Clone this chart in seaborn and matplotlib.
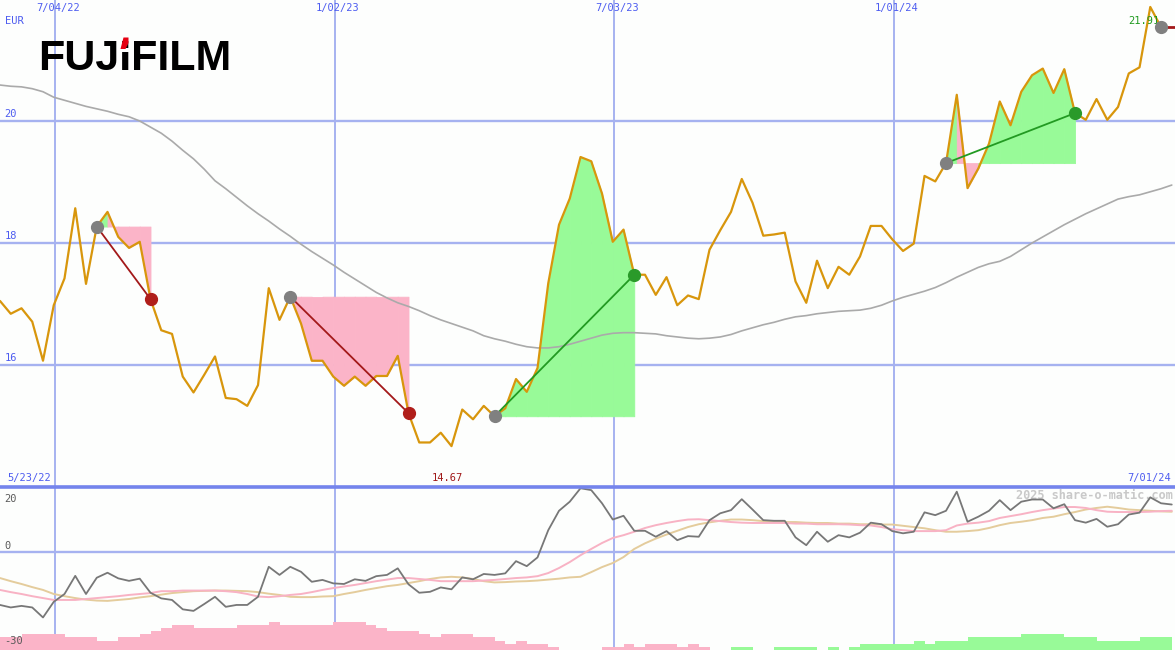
import numpy as np
import pandas as pd
import matplotlib
matplotlib.use("Agg")
import matplotlib.pyplot as plt
import matplotlib.dates as mdates
from matplotlib.patches import Polygon
import seaborn as sns

# ---------------- data ----------------
start_date = "2022-05-29"

price = [17.05, 16.84, 16.93, 16.71, 16.07, 16.98, 17.42, 18.57, 17.33, 18.27,
         18.51, 18.10, 17.92, 18.02, 17.08, 16.57, 16.51, 15.81, 15.55, 15.84,
         16.14, 15.46, 15.44, 15.33, 15.67, 17.26, 16.74, 17.12, 16.68, 16.07,
         16.07, 15.81, 15.66, 15.81, 15.66, 15.82, 15.82, 16.15, 15.21, 14.73,
         14.73, 14.89, 14.67, 15.27, 15.11, 15.33, 15.16, 15.29, 15.77, 15.56,
         15.95, 17.34, 18.30, 18.73, 19.41, 19.34, 18.81, 18.02, 18.22, 17.48,
         17.48, 17.15, 17.44, 16.98, 17.14, 17.08, 17.89, 18.21, 18.51, 19.05,
         18.66, 18.12, 18.14, 18.17, 17.37, 17.02, 17.71, 17.26, 17.61, 17.48,
         17.78, 18.28, 18.28, 18.06, 17.87, 17.99, 19.10, 19.01, 19.31, 20.43,
         18.90, 19.22, 19.63, 20.32, 19.93, 20.48, 20.75, 20.86, 20.46, 20.85,
         20.13, 20.02, 20.36, 20.02, 20.23, 20.78, 20.88, 21.87, 21.54]

moving_avg = [20.59, 20.57, 20.56, 20.53, 20.48, 20.39, 20.34, 20.29, 20.24, 20.20,
              20.16, 20.11, 20.07, 20.00, 19.90, 19.80, 19.67, 19.52, 19.38, 19.21,
              19.02, 18.89, 18.75, 18.61, 18.48, 18.36, 18.23, 18.11, 17.98, 17.86,
              17.75, 17.64, 17.52, 17.41, 17.30, 17.19, 17.10, 17.02, 16.96, 16.89,
              16.81, 16.74, 16.68, 16.62, 16.56, 16.48, 16.43, 16.39, 16.34, 16.30,
              16.28, 16.28, 16.30, 16.34, 16.39, 16.44, 16.49, 16.52, 16.53, 16.53,
              16.52, 16.51, 16.48, 16.46, 16.44, 16.43, 16.44, 16.46, 16.50, 16.56,
              16.61, 16.66, 16.70, 16.75, 16.79, 16.81, 16.84, 16.86, 16.88, 16.89,
              16.90, 16.93, 16.98, 17.05, 17.11, 17.16, 17.21, 17.27, 17.35, 17.44,
              17.52, 17.60, 17.66, 17.70, 17.78, 17.89, 18.00, 18.10, 18.20, 18.30,
              18.39, 18.48, 18.56, 18.64, 18.72, 18.76, 18.79, 18.84, 18.89, 18.95]

oscillator = [-16.9, -17.7, -17.2, -17.7, -20.9, -15.9, -13.4, -7.6, -13.4, -8.2,
              -6.6, -8.4, -9.2, -8.5, -13.0, -14.8, -15.3, -18.3, -18.8, -16.6,
              -14.3, -17.5, -16.9, -16.9, -14.3, -4.7, -7.3, -4.7, -6.3, -9.5,
              -8.9, -10.0, -10.2, -8.7, -9.2, -7.7, -7.3, -5.2, -10.3, -13.0,
              -12.7, -11.3, -11.9, -8.1, -8.7, -7.0, -7.3, -6.8, -2.9, -4.5,
              -1.7, 7.0, 13.2, 16.1, 20.4, 19.8, 15.6, 10.4, 11.6, 6.8,
              6.8, 4.9, 6.7, 3.8, 5.1, 4.9, 10.2, 12.4, 13.4, 16.9,
              13.6, 10.2, 10.0, 10.0, 4.7, 2.2, 6.5, 3.3, 5.4, 4.7,
              6.2, 9.4, 8.9, 6.7, 6.0, 6.5, 12.7, 11.8, 13.2, 19.3,
              9.7, 11.3, 13.2, 16.6, 13.4, 16.1, 16.8, 16.8, 14.0, 15.3,
              10.2, 9.4, 10.6, 8.1, 8.9, 12.0, 12.6, 17.5, 15.6, 15.2]

osc_fast = [-12.1, -12.8, -13.4, -14.1, -14.7, -15.3, -15.3, -15.3, -15.0, -14.7,
            -14.4, -14.1, -13.7, -13.4, -13.1, -12.5, -12.5, -12.3, -12.3, -12.3,
            -12.3, -12.5, -12.8, -13.4, -14.2, -14.4, -14.1, -13.7, -13.4, -12.8,
            -12.1, -11.5, -11.0, -10.5, -9.9, -9.3, -8.8, -8.3, -8.3, -8.6,
            -8.9, -9.3, -9.3, -9.3, -9.3, -9.1, -8.9, -8.6, -8.3, -8.1,
            -7.7, -6.7, -5.1, -3.2, -1.0, 1.0, 2.9, 4.5, 5.4, 6.5,
            7.7, 8.6, 9.3, 9.9, 10.4, 10.5, 10.2, 9.9, 9.6, 9.4,
            9.3, 9.3, 9.3, 9.3, 9.1, 9.1, 8.9, 8.9, 8.9, 8.8,
            8.6, 8.5, 8.0, 7.3, 7.0, 6.7, 6.7, 6.7, 7.0, 8.5,
            9.1, 9.4, 9.9, 10.9, 11.5, 12.1, 12.8, 13.4, 13.9, 14.4,
            14.4, 14.1, 13.4, 12.9, 12.8, 12.8, 12.8, 12.9, 13.1, 13.2]

osc_slow = [-8.3, -9.3, -10.2, -11.2, -12.1, -13.4, -14.1, -14.7, -15.2, -15.5,
            -15.6, -15.3, -15.0, -14.5, -14.1, -13.6, -13.1, -12.8, -12.5, -12.4,
            -12.3, -12.3, -12.4, -12.5, -12.8, -13.3, -13.7, -14.3, -14.4, -14.4,
            -14.2, -14.1, -13.4, -12.8, -12.1, -11.5, -10.9, -10.5, -9.9, -9.3,
            -8.6, -8.1, -7.9, -8.1, -8.6, -9.3, -9.7, -9.6, -9.4, -9.3,
            -9.1, -8.8, -8.5, -8.1, -7.9, -6.4, -4.8, -3.5, -1.6, 1.0,
            2.8, 4.3, 5.6, 6.8, 8.0, 8.9, 9.5, 10.0, 10.4, 10.4,
            10.2, 9.9, 9.7, 9.6, 9.6, 9.4, 9.3, 9.3, 9.1, 9.1,
            8.9, 8.9, 8.8, 8.8, 8.4, 8.0, 7.6, 7.0, 6.5, 6.5,
            6.7, 7.0, 7.7, 8.6, 9.3, 9.7, 10.2, 10.9, 11.3, 12.1,
            12.8, 13.6, 14.1, 14.5, 14.1, 13.6, 13.4, 13.2, 13.0, 12.9]

# signed signal strength (negative = pink, positive = green)
signal_bars = [-4, -4, -5, -5, -5, -5, -4, -4, -4, -3,
               -3, -4, -4, -5, -6, -7, -8, -8, -7, -7,
               -7, -7, -8, -8, -8, -9, -8, -8, -8, -8,
               -8, -9, -9, -9, -8, -7, -6, -6, -6, -5,
               -4, -5, -5, -5, -4, -4, -3, -2, -3, -2,
               -2, -1, 0, 0, 0, 0, -1, -1, -2, -1,
               -2, -2, -2, -1, -2, -1, 0, 0, 1, 1,
               0, 0, 1, 1, 1, 1, 0, 1, 0, 1,
               2, 2, 2, 2, 2, 3, 2, 3, 3, 3,
               4, 4, 4, 4, 4, 5, 5, 5, 5, 4,
               4, 4, 3, 3, 3, 3, 4, 4, 4]

# trades: (entry week index, exit week index)
trades = [(9, 14), (27, 38), (46, 59), (88, 100)]

grid_dates = ["2022-07-04", "2023-01-02", "2023-07-03", "2024-01-01"]
grid_labels = ["7/04/22", "1/02/23", "7/03/23", "1/01/24"]
price_ticks = [16, 18, 20]
price_tick_labels = ["16", "18", "20"]
osc_ticks = [20, 0, -30]
osc_tick_labels = ["20", "0", "-30"]
min_label = "14.67"
last_label = "21.91"
left_date_label = "5/23/22"
right_date_label = "7/01/24"
currency = "EUR"
watermark = "2025 share-o-matic.com"

# ---------------- styling ----------------
BG = "#fdfefd"
GRID = "#a6b2f0"
BLUE_TXT = "#4d5cf0"
ORANGE = "#d8960c"
PINK = "#fbb4c8"
GREEN = "#98fa98"
LOSS = "#a3191a"
GAIN = "#229a22"

sns.set_style("white")
plt.rcParams["font.family"] = ["DejaVu Sans Mono", "DejaVu Sans"]

n_long = len(moving_avg)
dates_long = pd.date_range(start_date, periods=n_long, freq="7D")
x_long = mdates.date2num(dates_long.to_pydatetime())
n = len(price)
x = x_long[:n]
x_left = x[0]
x_right = x[0] + 109.3 * 7
grid_x = mdates.date2num(pd.to_datetime(grid_dates).to_pydatetime())

fig = plt.figure(figsize=(11.75, 6.5), dpi=100, facecolor=BG)
split = (650 - 487) / 650
ax = fig.add_axes([0, split, 1, 1 - split])
ax2 = fig.add_axes([0, 0, 1, split])
for a in (ax, ax2):
    a.set_facecolor(BG)
    for s in a.spines.values():
        s.set_visible(False)
    a.set_xticks([])
    a.set_yticks([])
    a.set_xlim(x_left, x_right)

ax.set_ylim(14.0, 21.984)
ax2.set_ylim(-31.3, 20.8)

# grid
for gx in grid_x:
    ax.axvline(gx, color=GRID, lw=1.4, zorder=0)
    ax2.axvline(gx, color=GRID, lw=1.4, zorder=0)
for t in price_ticks:
    ax.axhline(t, color=GRID, lw=1.7, zorder=0)
ax2.axhline(0, color=GRID, lw=1.7, zorder=0)
ax2.axhline(20.8, color="#7484ec", lw=2.6, zorder=6, clip_on=False)

# trade fills (segment colour from its end value)
p = np.array(price)
for a_i, b_i in trades:
    entry = p[a_i]
    for j in range(a_i, b_i):
        col = GREEN if p[j + 1] >= entry else PINK
        ax.fill_between(x[j:j + 2], entry, p[j:j + 2], facecolor=col, edgecolor=col,
                        lw=0.6, zorder=1)

# moving average and price
sns.lineplot(x=x_long, y=moving_avg, ax=ax, color="#aaaaaa", lw=1.2, zorder=2)
sns.lineplot(x=x, y=price, ax=ax, color=ORANGE, lw=1.6, zorder=3)

# trade lines and markers
for a_i, b_i in trades:
    gain = p[b_i] > p[a_i]
    col = GAIN if gain else LOSS
    sns.lineplot(x=[x[a_i], x[b_i]], y=[p[a_i], p[b_i]], ax=ax, color=col, lw=1.3, zorder=4)
    ax.plot(x[a_i], p[a_i], "o", color="#808080", ms=8.5, zorder=5)
    ax.plot(x[b_i], p[b_i], "o", color=("#2a9a2a" if gain else "#b01e1a"), ms=8.5, zorder=5)

# current position
ax.plot([x[-1], x_right], [p[-1], p[-1]], color=LOSS, lw=2.0, zorder=4)
ax.plot(x[-1], p[-1], "o", color="#808080", ms=8.5, zorder=5)

# price texts
ytr = ax.get_yaxis_transform()
xtr = ax.get_xaxis_transform()
for t, lab in zip(price_ticks, price_tick_labels):
    ax.text(0.004, t + 0.04, lab, transform=ytr, color=BLUE_TXT, fontsize=7.5,
            ha="left", va="bottom")
ax.text(0.004, 0.957, currency, transform=ax.transAxes, color=BLUE_TXT, fontsize=7.5,
        ha="left", va="center")
for gx, lab in zip(grid_x, grid_labels):
    ax.text(gx + 2, 0.983, lab, transform=xtr, color=BLUE_TXT, fontsize=7.5,
            ha="center", va="center")
ax.text(x[int(np.argmin(p))] - 3, 0.019, min_label, transform=xtr, color="#a01818",
        fontsize=7.5, ha="center", va="center")
ax.text(0.006, 0.019, left_date_label, transform=ax.transAxes, color=BLUE_TXT,
        fontsize=7.5, ha="left", va="center")
ax.text(0.997, 0.019, right_date_label, transform=ax.transAxes, color=BLUE_TXT,
        fontsize=7.5, ha="right", va="center")
ax.text(x[-1] - 1, 21.64, last_label, color="#1e9a1e", fontsize=7.5, ha="right",
        va="center")

# logo
fig.text(38 / 1175, 1 - 70 / 650, "FUJIFILM", fontsize=31, fontweight="bold",
         family="Liberation Sans", color="#000000", ha="left", va="baseline")
W, H = 1175.0, 650.0
gap = Polygon([(118 / W, 1 - 52 / H), (132 / W, 1 - 52 / H), (132 / W, 1 - 48 / H),
               (118 / W, 1 - 48 / H)], closed=True, transform=fig.transFigure,
              facecolor=BG, edgecolor="none", zorder=10)
red = Polygon([(120.5 / W, 1 - 49 / H), (123.5 / W, 1 - 37.5 / H),
               (128.5 / W, 1 - 37.5 / H), (128.5 / W, 1 - 43 / H),
               (125.5 / W, 1 - 49 / H)], closed=True, transform=fig.transFigure,
              facecolor="#e60012", edgecolor="none", zorder=11)
fig.patches.extend([gap, red])

# lower panel
sig = np.array(signal_bars)
bar_bottom = -31.3
ax2.bar(x[:n], np.where(sig < 0, -sig, 0), width=7, align="edge", bottom=bar_bottom,
        color=PINK, lw=0, zorder=1)
ax2.bar(x[:n], np.where(sig > 0, sig, 0), width=7, align="edge", bottom=bar_bottom,
        color=GREEN, lw=0, zorder=1)
sns.lineplot(x=x_long, y=osc_slow, ax=ax2, color="#e4cc9c", lw=1.4, zorder=2)
sns.lineplot(x=x_long, y=osc_fast, ax=ax2, color="#f8b2c4", lw=1.4, zorder=2)
sns.lineplot(x=x_long, y=oscillator, ax=ax2, color="#777777", lw=1.3, zorder=3)

ytr2 = ax2.get_yaxis_transform()
offs = {20: -2.9, 0: 1.9, -30: 1.6}
for t, lab in zip(osc_ticks, osc_tick_labels):
    ax2.text(0.004, t + offs[t], lab, transform=ytr2, color="#5a5a5a", fontsize=7.5,
             ha="left", va="center")
ax2.text(0.998, 0.945, watermark, transform=ax2.transAxes, color="#c9c9c9",
         fontsize=8.6, fontweight="bold", ha="right", va="center", zorder=1)

for a in (ax, ax2):
    leg = a.get_legend()
    if leg is not None:
        leg.remove()
    a.set_xlabel("")
    a.set_ylabel("")

fig.savefig("out.png", dpi=100, facecolor=BG)
